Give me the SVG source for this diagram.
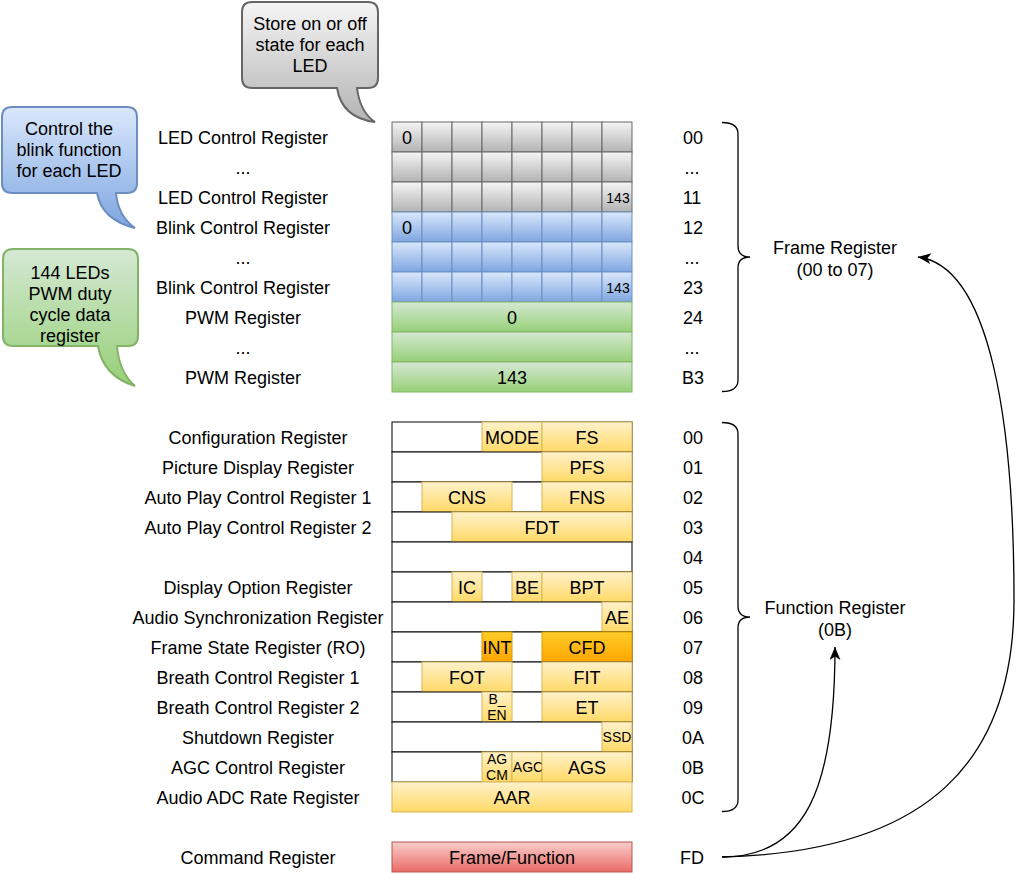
<svg xmlns="http://www.w3.org/2000/svg" xmlns:xlink="http://www.w3.org/1999/xlink" width="1016" height="873" viewBox="0 0 1016 873">
<defs>
<linearGradient id="gGray" x1="0" y1="0" x2="0" y2="1"><stop offset="0" stop-color="#f5f5f5"/><stop offset="1" stop-color="#b3b3b3"/></linearGradient>
<linearGradient id="gBlue" x1="0" y1="0" x2="0" y2="1"><stop offset="0" stop-color="#dae8fc"/><stop offset="1" stop-color="#7ea6e0"/></linearGradient>
<linearGradient id="gGreen" x1="0" y1="0" x2="0" y2="1"><stop offset="0" stop-color="#d5e8d4"/><stop offset="1" stop-color="#97d077"/></linearGradient>
<linearGradient id="gYellow" x1="0" y1="0" x2="0" y2="1"><stop offset="0" stop-color="#fff2cc"/><stop offset="1" stop-color="#ffd966"/></linearGradient>
<linearGradient id="gOrange" x1="0" y1="0" x2="0" y2="1"><stop offset="0" stop-color="#ffcd28"/><stop offset="1" stop-color="#ffa500"/></linearGradient>
<linearGradient id="gRed" x1="0" y1="0" x2="0" y2="1"><stop offset="0" stop-color="#f8cecc"/><stop offset="1" stop-color="#ea6b66"/></linearGradient>
<marker id="arr" markerUnits="userSpaceOnUse" markerWidth="15" markerHeight="12" refX="13" refY="5.5" orient="auto">
<path d="M0,0 L13,5.5 L0,11 L3.5,5.5 Z" fill="#000"/>
</marker>
<g id="grayRow">
<rect class="gray" x="392" y="0" width="30" height="30"/><rect class="gray" x="422" y="0" width="30" height="30"/><rect class="gray" x="452" y="0" width="30" height="30"/><rect class="gray" x="482" y="0" width="30" height="30"/><rect class="gray" x="512" y="0" width="30" height="30"/><rect class="gray" x="542" y="0" width="30" height="30"/><rect class="gray" x="572" y="0" width="30" height="30"/><rect class="gray" x="602" y="0" width="30" height="30"/>
</g>
<g id="blueRow">
<rect class="blue" x="392" y="0" width="30" height="30"/><rect class="blue" x="422" y="0" width="30" height="30"/><rect class="blue" x="452" y="0" width="30" height="30"/><rect class="blue" x="482" y="0" width="30" height="30"/><rect class="blue" x="512" y="0" width="30" height="30"/><rect class="blue" x="542" y="0" width="30" height="30"/><rect class="blue" x="572" y="0" width="30" height="30"/><rect class="blue" x="602" y="0" width="30" height="30"/>
</g>
</defs>
<style>
.t{font-family:"Liberation Sans",Arial,sans-serif;font-size:18px;fill:#000;text-anchor:middle}
.s{font-size:14px}
.gray{fill:url(#gGray);stroke:#666666;stroke-width:1}
.blue{fill:url(#gBlue);stroke:#6c8ebf;stroke-width:1}
.green{fill:url(#gGreen);stroke:#82b366;stroke-width:1}
.yel{fill:url(#gYellow);stroke:#d6b656;stroke-width:1}
.org{fill:url(#gOrange);stroke:#d79b00;stroke-width:1}
.red{fill:url(#gRed);stroke:#b85450;stroke-width:1}
.wht{fill:#ffffff;stroke:#000000;stroke-width:1}
.brace{fill:none;stroke:#000;stroke-width:1.3}
.edge{fill:none;stroke:#000;stroke-width:1.3}
</style>
<rect width="1016" height="873" fill="#ffffff"/>

<!-- Callouts -->
<g id="calloutGray">
<path d="M252,2 H368 Q378,2 378,12 V78 Q378,88 368,88 H357 Q360,112 375,122 Q342,118 337,88 H252 Q242,88 242,78 V12 Q242,2 252,2 Z" fill="url(#gGray)" stroke="#666666" stroke-width="2"/>
<text class="t" x="310" y="30">Store on or off</text>
<text class="t" x="310" y="51">state for each</text>
<text class="t" x="310" y="72">LED</text>
</g>
<g id="calloutBlue">
<path d="M12,107 H127 Q137,107 137,117 V183 Q137,193 127,193 H116 Q118,216 135,228 Q102,220 97,193 H12 Q2,193 2,183 V117 Q2,107 12,107 Z" fill="url(#gBlue)" stroke="#6c8ebf" stroke-width="2"/>
<text class="t" x="69" y="135">Control the</text>
<text class="t" x="69" y="156">blink function</text>
<text class="t" x="69" y="177">for each LED</text>
</g>
<g id="calloutGreen">
<path d="M13,249 H128 Q138,249 138,259 V336 Q138,346 128,346 H117 Q119,372 135,386 Q103,376 98,346 H13 Q3,346 3,336 V259 Q3,249 13,249 Z" fill="url(#gGreen)" stroke="#82b366" stroke-width="2"/>
<text class="t" x="70" y="279">144 LEDs</text>
<text class="t" x="70" y="300">PWM duty</text>
<text class="t" x="70" y="321">cycle data</text>
<text class="t" x="70" y="342">register</text>
</g>

<!-- Frame register rows -->
<g id="ledCtrl0">
<text class="t" x="243" y="144">LED Control Register</text>
<use xlink:href="#grayRow" href="#grayRow" y="122"/>
<text class="t" x="407" y="144">0</text>
<text class="t" x="693" y="144">00</text>
</g>
<g id="ledCtrlDots">
<text class="t" x="243" y="174">...</text>
<use xlink:href="#grayRow" href="#grayRow" y="152"/>
<text class="t" x="692" y="174">...</text>
</g>
<g id="ledCtrl11">
<text class="t" x="243" y="204">LED Control Register</text>
<use xlink:href="#grayRow" href="#grayRow" y="182"/>
<text class="t s" x="618" y="203">143</text>
<text class="t" x="692" y="204">11</text>
</g>
<g id="blink12">
<text class="t" x="243" y="234">Blink Control Register</text>
<use xlink:href="#blueRow" href="#blueRow" y="212"/>
<text class="t" x="407" y="234">0</text>
<text class="t" x="693" y="234">12</text>
</g>
<g id="blinkDots">
<text class="t" x="243" y="264">...</text>
<use xlink:href="#blueRow" href="#blueRow" y="242"/>
<text class="t" x="692" y="264">...</text>
</g>
<g id="blink23">
<text class="t" x="243" y="294">Blink Control Register</text>
<use xlink:href="#blueRow" href="#blueRow" y="272"/>
<text class="t s" x="618" y="293">143</text>
<text class="t" x="693" y="294">23</text>
</g>
<g id="pwm24">
<text class="t" x="243" y="324">PWM Register</text>
<rect class="green" x="392" y="302" width="240" height="30"/>
<text class="t" x="512" y="324">0</text>
<text class="t" x="693" y="324">24</text>
</g>
<g id="pwmDots">
<text class="t" x="243" y="354">...</text>
<rect class="green" x="392" y="332" width="240" height="30"/>
<text class="t" x="692" y="354">...</text>
</g>
<g id="pwmB3">
<text class="t" x="243" y="384">PWM Register</text>
<rect class="green" x="392" y="362" width="240" height="30"/>
<text class="t" x="512" y="384">143</text>
<text class="t" x="693" y="384">B3</text>
</g>
<g id="frameLabel">
<text class="t" x="835" y="254">Frame Register</text>
<text class="t" x="835" y="276">(00 to 07)</text>
</g>

<!-- Function register rows -->
<g id="reg00">
<text class="t" x="258" y="444">Configuration Register</text>
<rect class="wht" x="392" y="422" width="240" height="30"/>
<rect class="yel" x="482" y="422" width="60" height="30"/><text class="t" x="512" y="444">MODE</text>
<rect class="yel" x="542" y="422" width="90" height="30"/><text class="t" x="587" y="444">FS</text>
<text class="t" x="693" y="444">00</text>
</g>
<g id="reg01">
<text class="t" x="258" y="474">Picture Display Register</text>
<rect class="wht" x="392" y="452" width="240" height="30"/>
<rect class="yel" x="542" y="452" width="90" height="30"/><text class="t" x="587" y="474">PFS</text>
<text class="t" x="693" y="474">01</text>
</g>
<g id="reg02">
<text class="t" x="258" y="504">Auto Play Control Register 1</text>
<rect class="wht" x="392" y="482" width="240" height="30"/>
<rect class="yel" x="422" y="482" width="90" height="30"/><text class="t" x="467" y="504">CNS</text>
<rect class="yel" x="542" y="482" width="90" height="30"/><text class="t" x="587" y="504">FNS</text>
<text class="t" x="693" y="504">02</text>
</g>
<g id="reg03">
<text class="t" x="258" y="534">Auto Play Control Register 2</text>
<rect class="wht" x="392" y="512" width="240" height="30"/>
<rect class="yel" x="452" y="512" width="180" height="30"/><text class="t" x="542" y="534">FDT</text>
<text class="t" x="693" y="534">03</text>
</g>
<g id="reg04">
<rect class="wht" x="392" y="542" width="240" height="30"/>
<text class="t" x="693" y="564">04</text>
</g>
<g id="reg05">
<text class="t" x="258" y="594">Display Option Register</text>
<rect class="wht" x="392" y="572" width="240" height="30"/>
<rect class="yel" x="452" y="572" width="30" height="30"/><text class="t" x="467" y="594">IC</text>
<rect class="yel" x="512" y="572" width="30" height="30"/><text class="t" x="527" y="594">BE</text>
<rect class="yel" x="542" y="572" width="90" height="30"/><text class="t" x="587" y="594">BPT</text>
<text class="t" x="693" y="594">05</text>
</g>
<g id="reg06">
<text class="t" x="258" y="624">Audio Synchronization Register</text>
<rect class="wht" x="392" y="602" width="240" height="30"/>
<rect class="yel" x="602" y="602" width="30" height="30"/><text class="t" x="617" y="624">AE</text>
<text class="t" x="693" y="624">06</text>
</g>
<g id="reg07">
<text class="t" x="258" y="654">Frame State Register (RO)</text>
<rect class="wht" x="392" y="632" width="240" height="30"/>
<rect class="org" x="482" y="632" width="30" height="30"/><text class="t" x="497" y="654">INT</text>
<rect class="org" x="542" y="632" width="90" height="30"/><text class="t" x="587" y="654">CFD</text>
<text class="t" x="693" y="654">07</text>
</g>
<g id="reg08">
<text class="t" x="258" y="684">Breath Control Register 1</text>
<rect class="wht" x="392" y="662" width="240" height="30"/>
<rect class="yel" x="422" y="662" width="90" height="30"/><text class="t" x="467" y="684">FOT</text>
<rect class="yel" x="542" y="662" width="90" height="30"/><text class="t" x="587" y="684">FIT</text>
<text class="t" x="693" y="684">08</text>
</g>
<g id="reg09">
<text class="t" x="258" y="714">Breath Control Register 2</text>
<rect class="wht" x="392" y="692" width="240" height="30"/>
<rect class="yel" x="482" y="692" width="30" height="30"/>
<text class="t s" x="497" y="704">B_</text><text class="t s" x="497" y="720">EN</text>
<rect class="yel" x="542" y="692" width="90" height="30"/><text class="t" x="587" y="714">ET</text>
<text class="t" x="693" y="714">09</text>
</g>
<g id="reg0A">
<text class="t" x="258" y="744">Shutdown Register</text>
<rect class="wht" x="392" y="722" width="240" height="30"/>
<rect class="yel" x="602" y="722" width="30" height="30"/><text class="t s" x="617" y="742">SSD</text>
<text class="t" x="693" y="744">0A</text>
</g>
<g id="reg0B">
<text class="t" x="258" y="774">AGC Control Register</text>
<rect class="wht" x="392" y="752" width="240" height="30"/>
<rect class="yel" x="482" y="752" width="30" height="30"/>
<text class="t s" x="497" y="764">AG</text><text class="t s" x="497" y="780">CM</text>
<rect class="yel" x="512" y="752" width="30" height="30"/><text class="t s" x="528" y="772">AGC</text>
<rect class="yel" x="542" y="752" width="90" height="30"/><text class="t" x="587" y="774">AGS</text>
<text class="t" x="693" y="774">0B</text>
</g>
<g id="reg0C">
<text class="t" x="258" y="804">Audio ADC Rate Register</text>
<rect class="yel" x="392" y="782" width="240" height="30"/><text class="t" x="512" y="804">AAR</text>
<text class="t" x="693" y="804">0C</text>
</g>
<g id="functionLabel">
<text class="t" x="835" y="614">Function Register</text>
<text class="t" x="835" y="636">(0B)</text>
</g>
<g id="regFD">
<text class="t" x="258" y="864">Command Register</text>
<rect class="red" x="392" y="842" width="240" height="30"/><text class="t" x="512" y="864">Frame/Function</text>
<text class="t" x="692" y="864">FD</text>
</g>

<!-- Connectors -->
<g id="connectors">
<path class="brace" d="M722,122.5 Q738,122.5 738,134 L738,246 Q738,257 750,257 Q738,257 738,268 L738,380 Q738,391.5 722,391.5"/>
<path class="brace" d="M722,422.5 Q738,422.5 738,434 L738,606 Q738,617 750,617 Q738,617 738,628 L738,800 Q738,811.5 722,811.5"/>
<path class="edge" d="M722,857 C805,857 835,790 835,647" marker-end="url(#arr)"/>
<path class="edge" d="M722,857 C930,852 1014,760 1014,600 C1014,420 990,266 918,257" marker-end="url(#arr)"/>
</g>
</svg>
